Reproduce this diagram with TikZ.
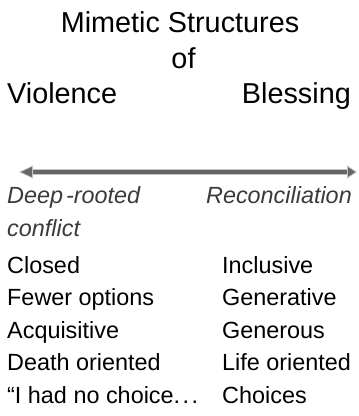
\documentclass[tikz,border=0pt]{standalone}
\usepackage{fontspec}
\setmainfont{Liberation Sans}
\usetikzlibrary{arrows.meta,positioning}

\definecolor{shaftgray}{HTML}{666666}
\definecolor{edgegray}{HTML}{C4C4C4}
\definecolor{poletext}{HTML}{3A3A3A}

\begin{document}
\begin{tikzpicture}[x=1pt,y=-1pt,
	title/.style={inner sep=0pt,font=\fontsize{28.8}{30}\selectfont},
	pole/.style={inner sep=0pt,text=poletext,font=\fontsize{23.4}{26}\selectfont\itshape},
	item/.style={inner sep=0pt,font=\fontsize{23.4}{26}\selectfont},
	arrowline/.style={line width=4pt,shaftgray,
		{Triangle[length=14pt,width=13pt,fill=shaftgray,color=edgegray,line width=0.8pt]}-{Triangle[length=10pt,width=13pt,fill=shaftgray,color=edgegray,line width=0.8pt]}}]
	\useasboundingbox (0,0) rectangle (359,416);

	% heading
	\node[title,anchor=base] (title) at (180,32) {Mimetic Structures};
	\node[title,anchor=base] (of) at (183.5,68) {of};
	\node[title,anchor=base west] (violence) at (7,103) {Violence};
	\node[title,anchor=base east] (blessing) at (351,103) {Blessing};

	% the scale between the two poles
	\coordinate (lend) at (19,172);
	\coordinate (rend) at (357,172);
	\draw[line width=6.5pt,edgegray,shorten <=12pt,shorten >=8pt] (lend) -- (rend);
	\draw[arrowline] (lend) -- (rend);

	\node[pole,anchor=base west] (deep) at (7,203) {Deep\kern3pt-rooted};
	\node[pole,anchor=base west] (conflict) at (7,236) {conflict};
	\node[pole,anchor=base east] (recon) at (352,203) {Reconciliation};

	% left column
	\node[item,anchor=base west] (l1) at (7,273) {Closed};
	\node[item,anchor=base west] (l2) at (7,305.5) {Fewer options};
	\node[item,anchor=base west] (l3) at (7,338) {Acquisitive};
	\node[item,anchor=base west] (l4) at (7,370.5) {Death oriented};
	\node[item,anchor=base west] (l5) at (7,403) {“I had no choice.\kern2.5pt.\kern2.5pt.};

	% right column
	\node[item,anchor=base west] (r1) at (222,273) {Inclusive};
	\node[item,anchor=base west] (r2) at (222,305.5) {Generative};
	\node[item,anchor=base west] (r3) at (222,338) {Generous};
	\node[item,anchor=base west] (r4) at (222,370.5) {Life oriented};
	\node[item,anchor=base west] (r5) at (222,403) {Choices};
\end{tikzpicture}
\end{document}
